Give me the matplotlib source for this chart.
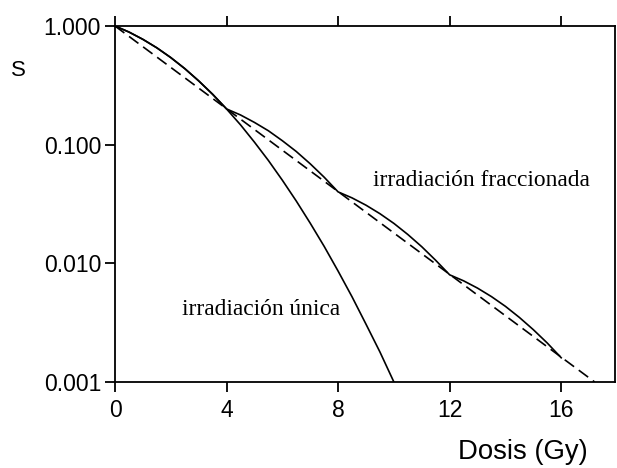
import matplotlib
matplotlib.use('Agg')
import matplotlib.pyplot as plt

# dose (Gy) and surviving fraction
dose_single = [0, 0.5, 1, 1.5, 2, 2.5, 3, 3.5, 4, 4.5, 5, 5.5, 6, 6.5, 7,
               7.5, 8, 8.5, 9, 9.5, 10]
s_single = [1.0, 0.890, 0.772, 0.655, 0.542, 0.438, 0.345, 0.266, 0.200,
            0.147, 0.105, 0.0736, 0.0502, 0.0335, 0.0218, 0.0139, 0.0086,
            0.00522, 0.00307, 0.00179, 0.001]

dose_frac = [0, 0.5, 1, 1.5, 2, 2.5, 3, 3.5, 4,
             4.5, 5, 5.5, 6, 6.5, 7, 7.5, 8,
             8.5, 9, 9.5, 10, 10.5, 11, 11.5, 12,
             12.5, 13, 13.5, 14, 14.5, 15, 15.5, 16]
s_frac = [1.0, 0.890, 0.772, 0.655, 0.542, 0.438, 0.345, 0.266, 0.200,
          0.178, 0.154, 0.131, 0.108, 0.0876, 0.069, 0.0532, 0.040,
          0.0356, 0.0309, 0.0262, 0.0217, 0.0175, 0.0138, 0.0106, 0.0080,
          0.00712, 0.00618, 0.00524, 0.00434, 0.00350, 0.00276, 0.00213, 0.0016]

dose_dash = [0, 17.2]
s_dash = [1.0, 0.001]

x_ticks = [0, 4, 8, 12, 16]
y_ticks = [0.001, 0.01, 0.1, 1.0]
y_labels = ['0.001', '0.010', '0.100', '1.000']

sans = 'Liberation Sans'
serif = 'Liberation Serif'

fig = plt.figure(figsize=(6.17, 4.68), dpi=100)
ax = fig.add_axes([0.1864, 0.1838, 0.8104, 0.7606])

ax.plot(dose_single, s_single, color='black', lw=1.2)
ax.plot(dose_frac, s_frac, color='black', lw=1.2)
ax.plot(dose_dash, s_dash, color='black', lw=1.2, linestyle=(0, (7, 3.5)))

ax.set_yscale('log')
ax.set_xlim(0, 17.93)
ax.set_ylim(0.001, 1.0)
ax.minorticks_off()
ax.set_xticks(x_ticks)
ax.set_xticklabels([str(t) for t in x_ticks], fontfamily=sans, fontsize=16.5)
ax.set_yticks(y_ticks)
ax.set_yticklabels(y_labels, fontfamily=sans, fontsize=16.5)
ax.tick_params(axis='both', direction='out', length=7, width=1.3)
ax.tick_params(axis='x', top=True, pad=5)
ax.tick_params(axis='y', pad=3)

for sp in ax.spines.values():
    sp.set_linewidth(1.3)

ax.text(9.25, 0.05, 'irradiación fraccionada', fontfamily=serif,
        fontsize=16.9, va='center', ha='left')
ax.text(2.4, 0.0041, 'irradiación única', fontfamily=serif,
        fontsize=16.9, va='center', ha='left')

fig.text(18 / 617, 1 - 71 / 468, 'S', fontfamily=sans, fontsize=16,
         ha='center', va='center')
fig.text(523 / 617, 1 - 452 / 468, 'Dosis (Gy)', fontfamily=sans,
         fontsize=19.8, ha='center', va='center')

fig.savefig('out.png', dpi=100)
